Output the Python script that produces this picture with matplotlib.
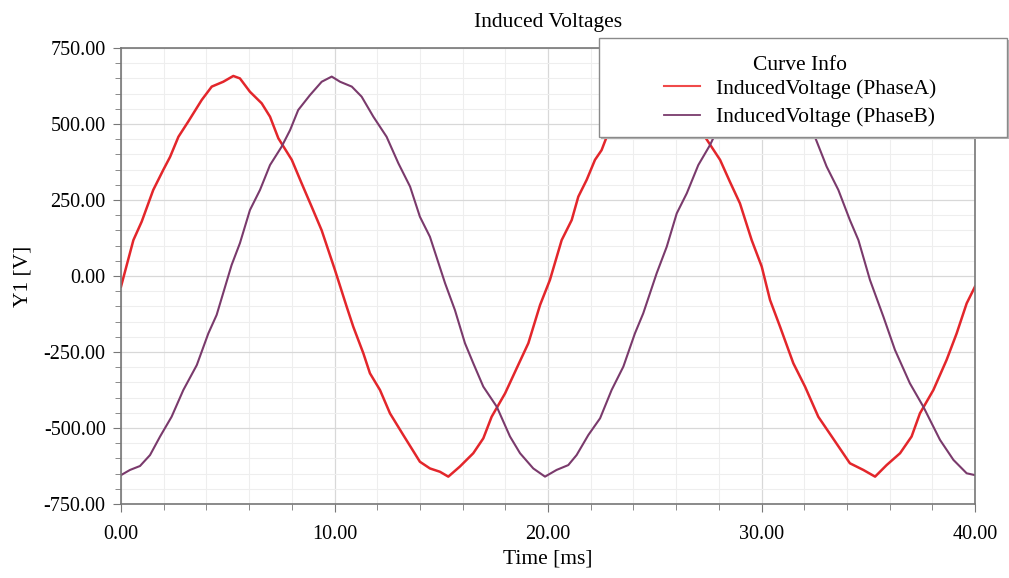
import matplotlib
matplotlib.use("Agg")
import numpy as np
from matplotlib import pyplot as plt
from matplotlib.patches import Rectangle
from matplotlib.ticker import MultipleLocator, FormatStrFormatter

# Sampled induced voltage traces [ms, V]
time_a = [0.0, 0.58, 0.97, 1.51, 1.98, 2.30, 2.69, 3.15, 3.78, 4.25, 4.79, 5.26, 5.57,
          6.04, 6.59, 6.98, 7.37, 8.00, 8.46, 8.93, 9.40, 10.02, 10.57, 10.88, 11.35,
          11.66, 12.13, 12.60, 13.22, 14.00, 14.47, 14.94, 15.33, 15.87, 16.50, 16.97,
          17.36, 17.99, 18.53, 19.08, 19.63, 20.09, 20.64, 21.11, 21.42, 21.81, 22.20,
          22.51, 22.75, 23.15, 23.78, 24.25, 24.79, 25.26, 25.57, 26.04, 26.59, 26.98,
          27.35, 28.06, 28.52, 28.99, 29.54, 30.01, 30.40, 30.87, 31.49, 32.04, 32.66,
          33.29, 34.14, 34.77, 35.32, 35.86, 36.49, 37.03, 37.42, 38.05, 38.67, 39.14,
          39.61, 40.0]
volt_a = [-35, 118, 179, 283, 349, 392, 458, 508, 579, 623, 639, 658, 650,
          606, 568, 524, 453, 382, 305, 228, 150, 20, -101, -167, -254,
          -320, -375, -452, -523, -611, -633, -644, -660, -627, -583, -534,
          -463, -386, -304, -221, -95, -13, 118, 184, 261, 316, 382,
          414, 458, 508, 579, 623, 639, 658, 650, 606, 568, 524,
          458, 382, 310, 239, 118, 31, -79, -167, -287, -364, -463,
          -528, -616, -638, -660, -622, -583, -528, -452, -375, -276, -189,
          -90, -35]

time_b = [0.0, 0.42, 0.89, 1.36, 1.83, 2.37, 2.92, 3.55, 4.09, 4.48, 5.18, 5.57, 6.04,
          6.51, 6.98, 7.52, 7.92, 8.30, 8.85, 9.40, 9.87, 10.26, 10.81, 11.27, 11.82,
          12.44, 12.99, 13.54, 14.00, 14.47, 15.18, 15.64, 16.11, 16.50, 16.97, 17.60,
          18.22, 18.69, 19.31, 19.86, 20.40, 20.95, 21.34, 21.89, 22.44, 22.98, 23.53,
          24.07, 24.46, 25.09, 25.56, 26.03, 26.50, 27.04, 27.59, 27.92, 28.30, 28.85,
          29.40, 29.87, 30.26, 30.81, 31.27, 31.82, 32.50, 33.05, 33.60, 34.14, 34.54,
          35.08, 35.71, 36.25, 36.95, 37.58, 38.36, 38.99, 39.61, 40.0]
volt_b = [-655, -638, -625, -589, -528, -463, -375, -293, -189, -128, 36, 108, 217,
          283, 365, 425, 480, 546, 595, 639, 656, 639, 623, 590, 524,
          458, 371, 294, 195, 129, -24, -112, -221, -287, -364, -430,
          -528, -583, -633, -660, -638, -622, -589, -523, -468, -375, -298,
          -189, -123, 9, 96, 206, 272, 365, 431, 480, 546, 595,
          639, 656, 639, 623, 590, 524, 458, 360, 283, 184, 118,
          -13, -134, -243, -353, -430, -539, -605, -649, -655]

series_labels = ["InducedVoltage (PhaseA)", "InducedVoltage (PhaseB)"]
series_colors = ["#e3262b", "#7a3a6c"]

plt.rcParams["font.family"] = ["Liberation Serif", "DejaVu Serif"]

W, H = 1009, 578
fig = plt.figure(figsize=(W / 100, H / 100), dpi=100)
ax = fig.add_axes([121 / W, 1 - 504 / H, (975 - 121) / W, (504 - 48) / H])

ax.plot(time_a, volt_a, color=series_colors[0], linewidth=1.8, label=series_labels[0])
ax.plot(time_b, volt_b, color=series_colors[1], linewidth=1.5, label=series_labels[1])

ax.set_xlim(0, 40)
ax.set_ylim(-750, 750)
ax.xaxis.set_major_locator(MultipleLocator(10))
ax.xaxis.set_minor_locator(MultipleLocator(2))
ax.yaxis.set_major_locator(MultipleLocator(250))
ax.yaxis.set_minor_locator(MultipleLocator(50))
ax.xaxis.set_major_formatter(FormatStrFormatter("%.2f"))
ax.yaxis.set_major_formatter(FormatStrFormatter("%.2f"))

ax.grid(which="major", color="#d8d8d8", linewidth=0.9)
ax.grid(which="minor", color="#eeeeee", linewidth=0.8)
ax.set_axisbelow(True)

for side in ax.spines.values():
    side.set_color("#777777")
    side.set_linewidth(1.2)
ax.tick_params(which="major", length=6, color="#777777", labelsize=14.5)
ax.tick_params(which="minor", length=4, color="#777777")
ax.tick_params(axis="y", pad=5)
ax.tick_params(axis="x", pad=9)

ax.set_title("Induced Voltages", fontsize=15.5, pad=15)
ax.set_xlabel("Time [ms]", fontsize=15.5, labelpad=4)
ax.set_ylabel("Y1 [V]", fontsize=15.5, labelpad=8)

# legend box drawn separately so the padding can be wider than it is tall
box = (599, 38, 1007, 137)
shadow = Rectangle((box[0] / W + 2 / W, 1 - box[3] / H - 2 / H),
                   (box[2] - box[0]) / W, (box[3] - box[1]) / H,
                   transform=fig.transFigure, facecolor="#b5b5b5",
                   edgecolor="none", zorder=3)
frame = Rectangle((box[0] / W, 1 - box[3] / H),
                  (box[2] - box[0]) / W, (box[3] - box[1]) / H,
                  transform=fig.transFigure, facecolor="white",
                  edgecolor="#8a8a8a", linewidth=1.0, zorder=4)
fig.add_artist(shadow)
fig.add_artist(frame)

leg = fig.legend(loc="center", title="Curve Info",
                 bbox_to_anchor=((box[0] + box[2]) / 2 / W - 3 / W,
                                 1 - (box[1] + box[3]) / 2 / H - 4 / H),
                 fontsize=15.5, title_fontsize=15.5, frameon=False,
                 borderpad=0.0, handlelength=1.7, handletextpad=0.75,
                 labelspacing=0.4)
leg.set_zorder(5)
leg._legend_box.sep = 3
leg.get_lines()[0].set_color("#f04a4a")
leg.get_lines()[0].set_linewidth(1.5)
leg.get_lines()[1].set_linewidth(1.3)

fig.savefig("out.png", dpi=100)
